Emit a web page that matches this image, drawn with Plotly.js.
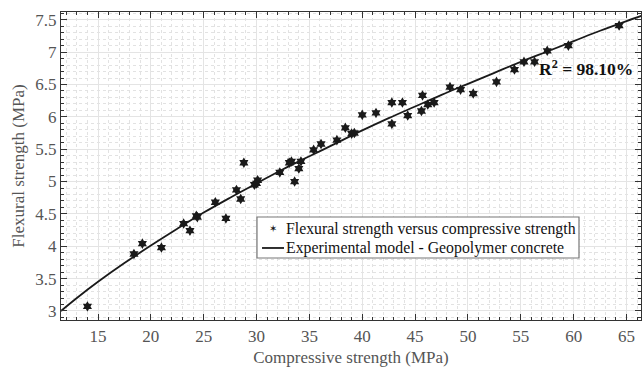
<!DOCTYPE html>
<html><head><meta charset="utf-8">
<script src="https://cdn.plot.ly/plotly-3.0.1.min.js"></script>
<style>html,body{margin:0;padding:0;background:#fff;}#chart{width:642px;height:372px;}</style>
</head><body><div id="chart"></div>
<script>
// Measured points: compressive strength (MPa) vs flexural strength (MPa)
const compressive = [14.0, 18.4, 19.2, 21.0, 23.1, 23.7, 24.3, 24.4, 26.1, 27.1, 28.1, 28.5, 28.8,
  29.8, 30.0, 30.1, 32.2, 33.1, 33.3, 33.6, 34.0, 34.2, 35.4, 36.1, 37.6, 38.4, 39.0, 39.25,
  40.0, 41.3, 42.8, 42.8, 43.8, 44.3, 45.6, 45.7, 46.2, 46.8, 48.3, 49.3, 50.5, 52.7,
  54.4, 55.3, 56.3, 57.5, 59.5, 64.3];
const flexural = [3.07, 3.88, 4.04, 3.98, 4.35, 4.24, 4.47, 4.45, 4.68, 4.43, 4.87, 4.73, 5.29,
  4.95, 4.97, 5.02, 5.14, 5.29, 5.31, 5.00, 5.20, 5.31, 5.49, 5.58, 5.64, 5.83, 5.74, 5.75,
  6.03, 6.06, 6.22, 5.89, 6.22, 6.02, 6.09, 6.33, 6.19, 6.22, 6.46, 6.42, 6.36, 6.54,
  6.73, 6.85, 6.85, 7.02, 7.10, 7.41];
// Model curve
const modelX = [11.5, 13, 15, 17.5, 20, 22.5, 25, 27.5, 30, 32.5, 35, 37.5, 40, 42.5, 45, 47.5,
  50, 52.5, 55, 57.5, 60, 62.5, 65, 66.4];
const modelY = [3.00, 3.20, 3.45, 3.74, 4.01, 4.27, 4.52, 4.75, 4.97, 5.19, 5.39, 5.59, 5.79, 5.98,
  6.16, 6.34, 6.51, 6.68, 6.85, 7.01, 7.17, 7.33, 7.48, 7.56];
const xTicks = [15, 20, 25, 30, 35, 40, 45, 50, 55, 60, 65];
const yTicks = [3, 3.5, 4, 4.5, 5, 5.5, 6, 6.5, 7, 7.5];
const seriesNames = ['Flexural strength versus compressive strength', 'Experimental model - Geopolymer concrete'];
const r2Text = 'R<sup>2</sup> = 98.10%';

const SERIF = "'Liberation Serif', 'Times New Roman', Times, serif";
const INK = '#1a1a1a';
const traces = [
  {x: compressive, y: flexural, type: 'scatter', mode: 'markers', name: seriesNames[0],
   marker: {symbol: 'hexagram', size: 8, color: INK}},
  {x: modelX, y: modelY, type: 'scatter', mode: 'lines', name: seriesNames[1],
   line: {color: INK, width: 1.8, shape: 'spline'}}
];
const axisCommon = {
  showline: true, linecolor: '#333', linewidth: 1.2, mirror: 'allticks',
  ticks: 'inside', ticklen: 6, tickcolor: '#333', tickwidth: 1,
  showgrid: true, gridcolor: '#e4e4e4', gridwidth: 1, zeroline: false,
  tickfont: {family: SERIF, size: 17, color: '#555'}
};
// Legend box (drawn by hand to match the compact original legend)
const lg = {x0: 0.3379, x1: 0.8931, y0: 0.2013, y1: 0.3344, row1: 0.2955, row2: 0.2338,
  textX: 0.385, lineX0: 0.3466, lineX1: 0.3845, markX: 0.365};
const layout = {
  width: 642, height: 372,
  margin: {l: 61, r: 1, t: 12, b: 52},
  paper_bgcolor: '#fff', plot_bgcolor: '#fff',
  font: {family: SERIF},
  showlegend: false,
  xaxis: Object.assign({}, axisCommon, {
    range: [11.5, 66.37], tickvals: xTicks, ticktext: xTicks.map(String),
    title: {text: 'Compressive strength (MPa)', standoff: 6,
      font: {family: SERIF, size: 17, color: '#555'}},
    minor: {dtick: 1, tick0: 0, ticks: 'inside', ticklen: 3, tickcolor: '#333', showgrid: true,
      gridcolor: '#e2e2e2', griddash: 'dot', gridwidth: 1}
  }),
  yaxis: Object.assign({}, axisCommon, {
    range: [2.86, 7.62], tickvals: yTicks, ticktext: yTicks.map(String),
    title: {text: 'Flexural strength (MPa)', standoff: 6,
      font: {family: SERIF, size: 17, color: '#555'}},
    minor: {dtick: 0.1, tick0: 0, ticks: 'inside', ticklen: 3, tickcolor: '#333', showgrid: true,
      gridcolor: '#e2e2e2', griddash: 'dot', gridwidth: 1}
  }),
  shapes: [
    {type: 'rect', xref: 'paper', yref: 'paper', x0: lg.x0, x1: lg.x1, y0: lg.y0, y1: lg.y1,
     fillcolor: '#fff', line: {color: '#777', width: 1.2}, layer: 'above'},
    {type: 'line', xref: 'paper', yref: 'paper', x0: lg.lineX0, x1: lg.lineX1, y0: lg.row2, y1: lg.row2,
     line: {color: INK, width: 1.8}, layer: 'above'}
  ],
  annotations: [
    {x: 0.99, y: 6.75, xref: 'paper', yref: 'y', xanchor: 'right', yanchor: 'middle',
     text: '<b>' + r2Text + '</b>', showarrow: false,
     font: {family: SERIF, size: 17.5, color: '#111'}},
    {x: lg.markX, y: lg.row1, xref: 'paper', yref: 'paper', xanchor: 'center', yanchor: 'middle',
     text: '✶', showarrow: false, font: {family: 'DejaVu Sans', size: 10, color: INK}},
    {x: lg.textX, y: lg.row1, xref: 'paper', yref: 'paper', xanchor: 'left', yanchor: 'middle',
     text: seriesNames[0], showarrow: false, font: {family: SERIF, size: 15.8, color: '#111'}},
    {x: lg.textX, y: lg.row2, xref: 'paper', yref: 'paper', xanchor: 'left', yanchor: 'middle',
     text: seriesNames[1], showarrow: false, font: {family: SERIF, size: 15.8, color: '#111'}}
  ]
};
Plotly.newPlot('chart', traces, layout, {displayModeBar: false, staticPlot: true});
</script></body></html>
